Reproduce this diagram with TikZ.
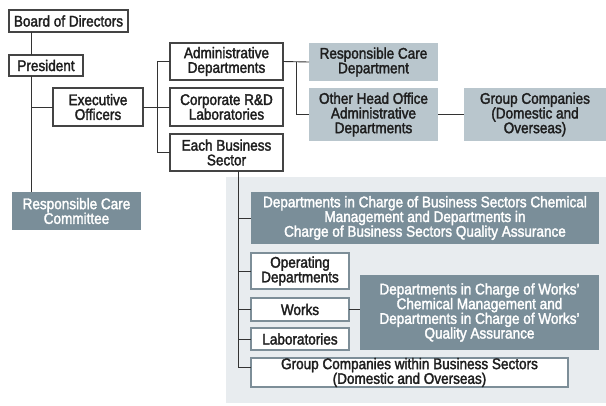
\documentclass[tikz,border=0pt]{standalone}
\usepackage{fontspec}
\setmainfont{Liberation Sans}
\newfontfamily\chartfont[FakeStretch=0.88,FakeBold=2]{Liberation Sans}
\definecolor{darkfill}{HTML}{7A8E99}
\definecolor{lightfill}{HTML}{B9C6CD}
\definecolor{panelfill}{HTML}{E8ECEF}
\definecolor{lineclr}{HTML}{333333}
\definecolor{boxline}{HTML}{444444}
\definecolor{inboxline}{HTML}{7D8E98}
\definecolor{txt}{HTML}{1E1E1E}
\begin{document}
\begin{tikzpicture}[x=1pt,y=-1pt,
  base/.style={rectangle,inner sep=0pt,outer sep=0pt,align=center,
    font=\chartfont\fontsize{15.4}{14.7}\selectfont},
  wbox/.style={base,draw=boxline,line width=1.1pt,fill=white,text=txt},
  ibox/.style={base,draw=inboxline,line width=1.1pt,fill=white,text=txt},
  lbox/.style={base,fill=lightfill,text=txt},
  dbox/.style={base,fill=darkfill,text=white},
  conn/.style={draw=lineclr,line width=0.9pt}]
\useasboundingbox (0,0) rectangle (606,405);
\fill[panelfill] (226,177) rectangle (606,403);
\node[wbox,minimum width=119pt,minimum height=22pt] (bod) at (68.5,21) {Board of Directors};
\node[wbox,minimum width=74pt,minimum height=21pt] (pres) at (46,65.5) {President};
\node[wbox,minimum width=90pt,minimum height=38pt] (exec) at (98,107) {Executive\\Officers};
\node[wbox,minimum width=113pt,minimum height=37pt] (admin) at (226.5,61.5) {Administrative\\Departments};
\node[wbox,minimum width=113pt,minimum height=38pt] (rnd) at (226.5,107) {Corporate R\&D\\Laboratories};
\node[wbox,minimum width=113pt,minimum height=37pt] (ebs) at (226.5,152.5) {Each Business\\Sector};
\node[lbox,minimum width=129pt,minimum height=38pt] (rcd) at (373.5,62) {Responsible Care\\Department};
\node[lbox,minimum width=129pt,minimum height=53pt] (oho) at (373.5,114.5) {Other Head Office\\Administrative\\Departments};
\node[lbox,minimum width=142pt,minimum height=53pt] (gc) at (535,114.5) {Group Companies\\(Domestic and\\Overseas)};
\node[dbox,minimum width=129pt,minimum height=38pt] (rcc) at (76.5,211) {Responsible Care\\Committee};
\node[dbox,minimum width=348pt,minimum height=52pt] (dbs) at (425,218) {Departments in Charge of Business Sectors Chemical\\Management and Departments in\\Charge of Business Sectors Quality Assurance};
\node[ibox,minimum width=98pt,minimum height=36pt] (opd) at (300,271) {Operating\\Departments};
\node[ibox,minimum width=98pt,minimum height=23pt] (works) at (300,309.5) {Works};
\node[ibox,minimum width=98pt,minimum height=22pt] (labs) at (300,339) {Laboratories};
\node[ibox,minimum width=317pt,minimum height=29pt] (gcw) at (409.5,372.5) {Group Companies within Business Sectors\\(Domestic and Overseas)};
\node[dbox,minimum width=239pt,minimum height=75pt] (dw) at (479.5,312.5) {Departments in Charge of Works’\\Chemical Management and\\Departments in Charge of Works’\\Quality Assurance};
\coordinate (t1) at (31,0);
\coordinate (b1) at (157,0);
\coordinate (b2) at (296,0);
\coordinate (b3) at (238,0);
\coordinate (gcwin) at ([yshift=5.5pt]gcw.west);
\path[conn] (bod.south -| t1) -- (pres.north -| t1);
\path[conn] (pres.south -| t1) -- (rcc.north -| t1);
\path[conn] (t1 |- exec.west) -- (exec.west);
\path[conn] (exec.east) -- (rnd.west);
\path[conn] (admin.west) -| (b1 |- ebs.west) -- (ebs.west);
\path[conn] (admin.east) -- (rcd.west);
\path[conn] (b2 |- admin.east) |- (oho.west);
\path[conn] (oho.east) -- (gc.west);
\path[conn] (ebs.south -| b3) |- (gcwin);
\path[conn] (b3 |- dbs.west) -- (dbs.west);
\path[conn] (b3 |- opd.west) -- (opd.west);
\path[conn] (b3 |- works.west) -- (works.west);
\path[conn] (b3 |- labs.west) -- (labs.west);
\path[conn] (works.east) -- (dw.west |- works.east);
\end{tikzpicture}
\end{document}
